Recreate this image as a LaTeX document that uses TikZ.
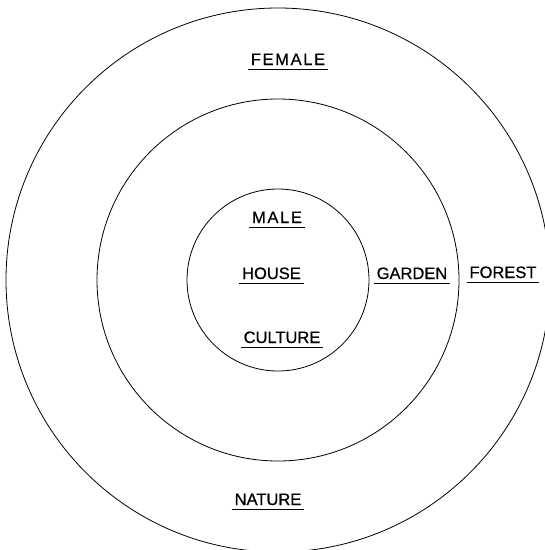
\documentclass[tikz,border=0pt]{standalone}
\usepackage{fontspec}
\setmainfont[FakeBold=0.6]{Liberation Sans}
\newfontfamily\widesans[LetterSpace=10,FakeBold=0.6]{Liberation Sans}

\begin{document}
\begin{tikzpicture}[
  x=1pt,y=-1pt,
  font=\fontsize{16.5}{18}\selectfont,
  ring/.style={draw,line width=0.8pt},
  word/.style={anchor=base,inner xsep=2.5pt,inner ysep=4.5pt},
  wide/.style={word,font=\fontsize{16.5}{18}\selectfont\widesans},
  rule/.style={line width=0.8pt}
]
\useasboundingbox (0,0) rectangle (545,550);

% three concentric rings
\coordinate (mid) at (278,280);
\draw[ring] (mid) circle[radius=91];
\draw[ring] (mid) circle[radius=181];
\draw[ring] (mid) circle[radius=272];

% labels
\node[wide] (female) at (288,65) {FEMALE};
\node[wide] (male) at (277,223) {MALE};
\node[word] (house) at (271.5,279) {HOUSE};
\node[word] (culture) at (282,343) {CULTURE};
\node[word] (garden) at (412,279) {GARDEN};
\node[word] (forest) at (503,278) {FOREST};
\node[word] (nature) at (268,505) {NATURE};

% underlines
\foreach \n in {female,male,house,culture,garden,forest,nature}
  \draw[rule] (\n.south west) -- (\n.south east);
\end{tikzpicture}
\end{document}
